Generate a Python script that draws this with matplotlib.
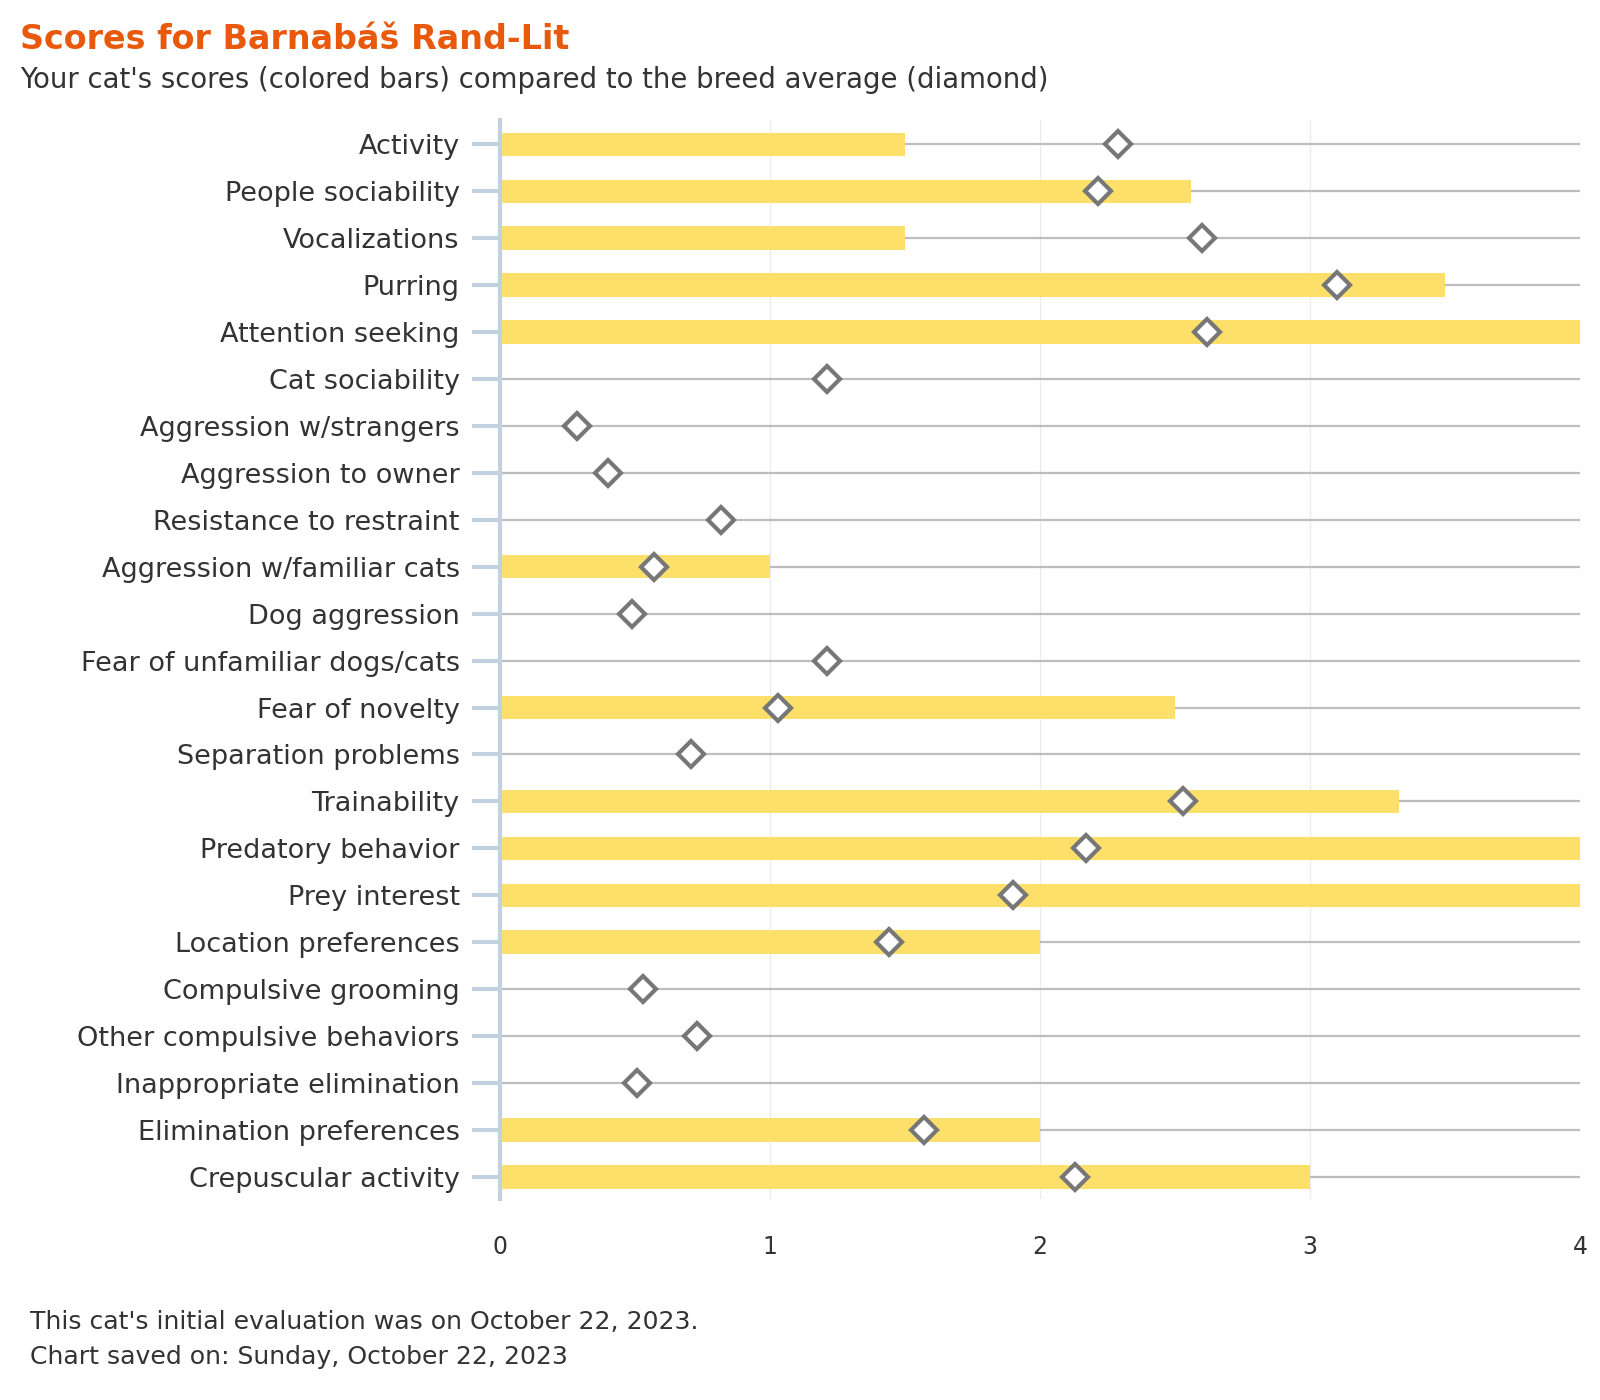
import matplotlib
matplotlib.use("Agg")
import matplotlib.pyplot as plt
import numpy as np

plt.rcParams['font.family'] = ['DejaVu Sans']

categories = [
    "Activity", "People sociability", "Vocalizations", "Purring", "Attention seeking",
    "Cat sociability", "Aggression w/strangers", "Aggression to owner",
    "Resistance to restraint", "Aggression w/familiar cats", "Dog aggression",
    "Fear of unfamiliar dogs/cats", "Fear of novelty", "Separation problems",
    "Trainability", "Predatory behavior", "Prey interest", "Location preferences",
    "Compulsive grooming", "Other compulsive behaviors", "Inappropriate elimination",
    "Elimination preferences", "Crepuscular activity",
]
cat_scores = [1.5, 2.56, 1.5, 3.5, 4.0, 0, 0, 0, 0, 1.0, 0, 0, 2.5, 0,
              3.33, 4.0, 4.0, 2.0, 0, 0, 0, 2.0, 3.0]
breed_avg = [2.29, 2.215, 2.60, 3.10, 2.62, 1.21, 0.287, 0.40, 0.82, 0.571, 0.49,
             1.21, 1.03, 0.707, 2.53, 2.17, 1.90, 1.44, 0.53, 0.73, 0.507, 1.57, 2.13]
x_ticks = [0, 1, 2, 3, 4]

TEXT = "#333333"
fig = plt.figure(figsize=(16, 14), dpi=100)
ax = fig.add_axes([0.3125, 0.1436, 0.675, 0.7704])

y = np.arange(len(categories))
for xv in x_ticks[1:]:
    ax.axvline(xv, color="#ececec", lw=1, zorder=0)
ax.hlines(y, 0, 4, color="#bdbdbd", lw=1.6, zorder=1)
ax.barh(y, cat_scores, height=0.5, color="#FDE06A", zorder=2)
ax.plot(breed_avg, y, linestyle="none", marker="D", markersize=13,
        markerfacecolor="white", markeredgecolor="#777777", markeredgewidth=3, zorder=3)

ax.set_xlim(0, 4)
ax.set_ylim(len(categories) - 0.53, -0.51)
ax.set_yticks(y)
ax.set_yticklabels(categories, fontsize=19.5, color=TEXT)
ax.set_xticks(x_ticks)
ax.set_xticklabels([str(t) for t in x_ticks], fontsize=17, color=TEXT)
ax.tick_params(axis="y", length=20, width=3, color="#c3d0e0", pad=9)
ax.tick_params(axis="x", length=0, pad=26)
for s in ["top", "right", "bottom"]:
    ax.spines[s].set_visible(False)
ax.spines["left"].set_color("#c3d0e0")
ax.spines["left"].set_linewidth(3)
ax.set_zorder(1)

fig.text(0.0125, 0.9715, "Scores for Barnabáš Rand-Lit", fontsize=24, fontweight="bold",
         color="#E8590C", va="center", ha="left")
fig.text(0.0125, 0.9425, "Your cat's scores (colored bars) compared to the breed average (diamond)",
         fontsize=19.8, color=TEXT, va="center", ha="left")
fig.text(0.019, 0.0555, "This cat's initial evaluation was on October 22, 2023.",
         fontsize=18.1, color=TEXT, va="center", ha="left")
fig.text(0.019, 0.0305, "Chart saved on: Sunday, October 22, 2023",
         fontsize=18.1, color=TEXT, va="center", ha="left")

fig.savefig("out.png", dpi=100, facecolor="white")
